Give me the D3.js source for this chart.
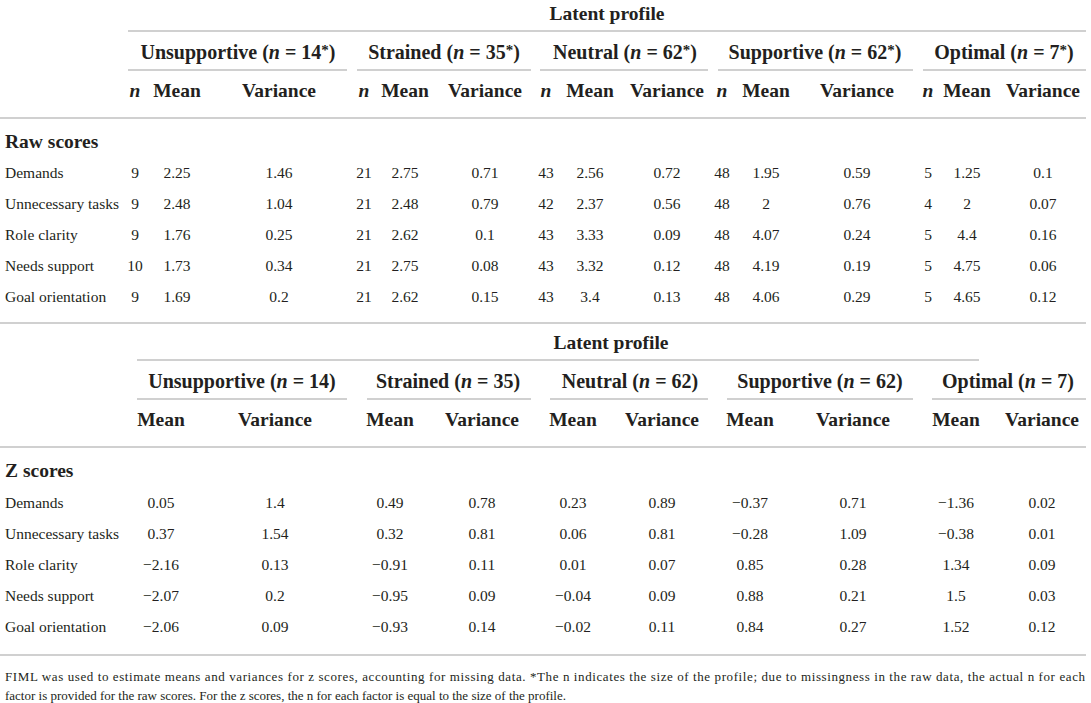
<!DOCTYPE html>
<html>
<head>
<meta charset="utf-8">
<script src="https://cdn.jsdelivr.net/npm/d3@7"></script>
<style>
  body { margin: 0; background: #fff; }
  svg { display: block; font-family: "Liberation Serif", "Times New Roman", serif; }
</style>
</head>
<body>
<div id="table"></div>
<script>
var profiles = ["Unsupportive", "Strained", "Neutral", "Supportive", "Optimal"];
var profileN = [14, 35, 62, 62, 7];
var factors = ["Demands", "Unnecessary tasks", "Role clarity", "Needs support", "Goal orientation"];

// raw scores, one array per profile, in factor order
var rawN = [
  [9, 9, 9, 10, 9],
  [21, 21, 21, 21, 21],
  [43, 42, 43, 43, 43],
  [48, 48, 48, 48, 48],
  [5, 4, 5, 5, 5]
];
var rawMean = [
  [2.25, 2.48, 1.76, 1.73, 1.69],
  [2.75, 2.48, 2.62, 2.75, 2.62],
  [2.56, 2.37, 3.33, 3.32, 3.4],
  [1.95, 2, 4.07, 4.19, 4.06],
  [1.25, 2, 4.4, 4.75, 4.65]
];
var rawVar = [
  [1.46, 1.04, 0.25, 0.34, 0.2],
  [0.71, 0.79, 0.1, 0.08, 0.15],
  [0.72, 0.56, 0.09, 0.12, 0.13],
  [0.59, 0.76, 0.24, 0.19, 0.29],
  [0.1, 0.07, 0.16, 0.06, 0.12]
];

// z scores
var zMean = [
  [0.05, 0.37, -2.16, -2.07, -2.06],
  [0.49, 0.32, -0.91, -0.95, -0.93],
  [0.23, 0.06, 0.01, -0.04, -0.02],
  [-0.37, -0.28, 0.85, 0.88, 0.84],
  [-1.36, -0.38, 1.34, 1.5, 1.52]
];
var zVar = [
  [1.4, 1.54, 0.13, 0.2, 0.09],
  [0.78, 0.81, 0.11, 0.09, 0.14],
  [0.89, 0.81, 0.07, 0.09, 0.11],
  [0.71, 1.09, 0.28, 0.21, 0.27],
  [0.02, 0.01, 0.09, 0.03, 0.12]
];

var footnote = [
  "FIML was used to estimate means and variances for z scores, accounting for missing data. *The n indicates the size of the profile; due to missingness in the raw data, the actual n for each",
  "factor is provided for the raw scores. For the z scores, the n for each factor is equal to the size of the profile."
];

// layout
var W = 1091, H = 703;
var ink = "#231f20", rule = "#d0d0d0";
var fmt = function (v) { return String(v).replace("-", "\u2212"); };

var svg = d3.select("#table").append("svg")
  .attr("width", W)
  .attr("height", H);

function hline(x1, x2, y) {
  svg.append("line")
    .attr("x1", x1).attr("x2", x2)
    .attr("y1", y).attr("y2", y)
    .style("stroke", rule)
    .style("stroke-width", 2);
}

function drawSection(opt) {
  // "Latent profile" spanner
  svg.append("text")
    .attr("x", opt.latentX).attr("y", opt.top)
    .attr("text-anchor", "middle").attr("dominant-baseline", "central")
    .style("font-weight", "bold").style("font-size", "19.5px").style("fill", ink)
    .text("Latent profile");
  hline(opt.spanLine[0], opt.spanLine[1], opt.top + 18);

  // profile group headers
  var groups = svg.selectAll(null)
    .data(profiles)
    .enter().append("text")
    .attr("x", function (d, i) { return opt.groupX[i]; })
    .attr("y", opt.top + 39)
    .attr("text-anchor", "middle").attr("dominant-baseline", "central")
    .style("font-weight", "bold").style("font-size", "20px").style("fill", ink);
  groups.append("tspan").text(function (d) { return d + " ("; });
  groups.append("tspan").style("font-style", "italic").text("n");
  groups.append("tspan").text(function (d, i) { return " = " + profileN[i]; });
  groups.append("tspan").style("font-size", "15px").attr("dy", -2).text(opt.star);
  groups.append("tspan").attr("dy", opt.star ? 2 : 0).text(")");

  profiles.forEach(function (p, i) {
    hline(opt.groupLine[i][0], opt.groupLine[i][1], opt.top + 57);
  });

  // column headers + values
  opt.cols.forEach(function (col) {
    profiles.forEach(function (p, i) {
      svg.append("text")
        .attr("x", col.x[i]).attr("y", opt.top + 77)
        .attr("text-anchor", "middle").attr("dominant-baseline", "central")
        .style("font-weight", "bold").style("font-size", "19.5px").style("fill", ink)
        .style("font-style", col.label == "n" ? "italic" : "normal")
        .text(col.label);

      svg.selectAll(null)
        .data(col.values[i])
        .enter().append("text")
        .attr("x", col.x[i])
        .attr("y", function (d, j) { return opt.rowY(factors[j]); })
        .attr("text-anchor", "middle").attr("dominant-baseline", "central")
        .style("font-size", "15.5px").style("fill", ink)
        .text(fmt);
    });
  });

  hline(0, 1086, opt.top + 105);

  svg.append("text")
    .attr("x", 5).attr("y", opt.top + 128)
    .attr("dominant-baseline", "central")
    .style("font-weight", "bold").style("font-size", "19.5px").style("fill", ink)
    .text(opt.title);

  svg.selectAll(null)
    .data(factors)
    .enter().append("text")
    .attr("x", 5)
    .attr("y", function (d) { return opt.rowY(d); })
    .attr("dominant-baseline", "central")
    .style("font-size", "15.5px").style("fill", ink)
    .text(function (d) { return d; });
}

var rawY = d3.scalePoint().domain(factors).range([172, 296]);
var zY = d3.scalePoint().domain(factors).range([502, 626]);

drawSection({
  top: 13,
  title: "Raw scores",
  star: "*",
  latentX: 607,
  spanLine: [128, 1086],
  rowY: rawY,
  groupX: [238, 444, 625, 815, 1004],
  groupLine: [[128, 347], [357, 531], [540, 708], [718, 913], [923, 1086]],
  cols: [
    { label: "n", x: [135, 364, 546, 722, 928], values: rawN },
    { label: "Mean", x: [177, 405, 590, 766, 967], values: rawMean },
    { label: "Variance", x: [279, 485, 667, 857, 1043], values: rawVar }
  ]
});

hline(0, 1086, 323);

drawSection({
  top: 342,
  title: "Z scores",
  star: "",
  latentX: 611,
  spanLine: [137, 979],
  rowY: zY,
  groupX: [242, 448, 630, 820, 1008],
  groupLine: [[137, 347], [367, 531], [550, 708], [727, 913], [932, 1086]],
  cols: [
    { label: "Mean", x: [161, 390, 573, 750, 956], values: zMean },
    { label: "Variance", x: [275, 482, 662, 853, 1042], values: zVar }
  ]
});

hline(0, 1086, 655);

svg.selectAll(".foot")
  .data(footnote)
  .enter().append("text")
  .attr("class", "foot")
  .attr("x", 5)
  .attr("y", function (d, i) { return 676 + i * 19; })
  .attr("dominant-baseline", "central")
  .attr("textLength", function (d, i) { return i == 0 ? 1080 : null; })
  .attr("lengthAdjust", "spacing")
  .style("font-size", "13px").style("fill", ink)
  .text(function (d) { return d; });
</script>
</body>
</html>
